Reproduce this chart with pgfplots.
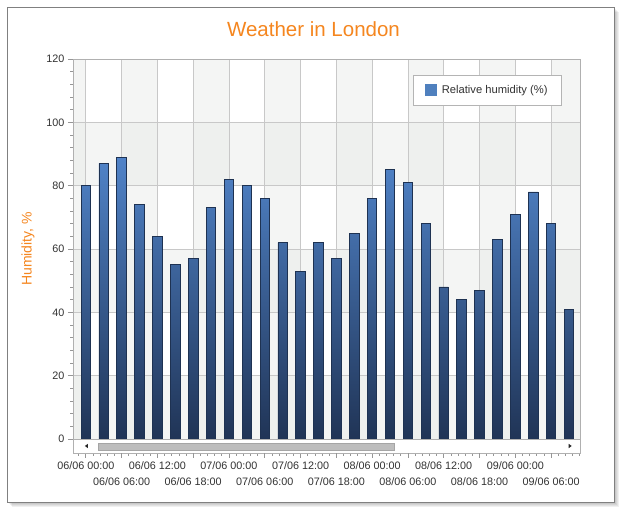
\documentclass[border=0pt]{standalone}
\usepackage{pgfplots}
\pgfplotsset{compat=1.18}
\usepackage{fontspec}
\setmainfont{Liberation Sans}
\definecolor{titleor}{RGB}{245,134,31}
\definecolor{barTop}{RGB}{80,131,200}
\definecolor{barBot}{RGB}{32,52,86}
\definecolor{barEdge}{RGB}{30,50,82}
\definecolor{legblue}{RGB}{79,128,190}
\definecolor{gridc}{RGB}{200,200,200}
\definecolor{borderc}{RGB}{176,176,176}
\definecolor{stripec}{RGB}{234,237,234}
\definecolor{tickc}{RGB}{150,150,150}
\definecolor{labc}{RGB}{50,50,50}
\definecolor{framec}{RGB}{128,128,128}
\definecolor{thumbc}{RGB}{189,189,189}
\definecolor{thumbe}{RGB}{165,165,165}

\begin{document}
\begin{tikzpicture}
\begin{scope}[x=1pt,y=1pt]
  \path (0,0) rectangle (625,518);
  \foreach \d in {1,...,5}{
    \fill[black,opacity=0.06] ({7+\d},{16-\d}) rectangle ({614+\d},{511-\d});
  }
  \fill[white] (7,16) rectangle (614,511);
  \draw[framec, line width=0.8pt] (7,16) rectangle (614,511);
  \node[text=titleor, font=\fontsize{20.5}{24}\selectfont] at (313.5,489) {Weather in London};
  \node[text=titleor, font=\fontsize{14}{17}\selectfont, rotate=90] at (28,269) {Humidity, \%};
\end{scope}
\begin{axis}[
  at={(73pt,65pt)}, anchor=south west,
  scale only axis, width=507pt, height=394pt,
  axis on top=true,
  xmin=-0.715, xmax=27.615, ymin=-4.421, ymax=120,
  axis line style={draw=borderc, line width=0.8pt},
  tick align=outside, tick pos=left,
  major tick length=5pt, minor tick length=2.8pt,
  tick style={draw=tickc, line width=0.7pt},
  ytick={0,20,...,120}, minor ytick={4,8,...,116},
  xtick={0,4,...,24},
  xticklabels={06/06 00:00, 06/06 12:00, 07/06 00:00, 07/06 12:00, 08/06 00:00, 08/06 12:00, 09/06 00:00},
  extra x ticks={2,6,...,26},
  extra x tick labels={06/06 06:00, 06/06 18:00, 07/06 06:00, 07/06 18:00, 08/06 06:00, 08/06 18:00, 09/06 06:00},
  extra x tick style={xticklabel style={yshift=-16pt}},
  minor xtick={-0.4,0,...,27.6},
  tick label style={font=\fontsize{10.8}{12}\selectfont, text=labc},
  /pgf/number format/assume math mode=true,
  legend cell align=left,
  legend style={at={(0.9645,0.9594)}, anchor=north east, draw={rgb,255:red,180;green,180;blue,180},
    line width=0.8pt, fill=white, inner xsep=12pt, inner ysep=8pt, column sep=3pt,
    font=\fontsize{11.2}{13}\selectfont, text=labc},
]
  % horizontal bands
  \fill[stripec, fill opacity=0.5] (axis cs:-0.715,0) rectangle (axis cs:27.615,20);
  \fill[stripec, fill opacity=0.5] (axis cs:-0.715,40) rectangle (axis cs:27.615,60);
  \fill[stripec, fill opacity=0.5] (axis cs:-0.715,80) rectangle (axis cs:27.615,100);
  % vertical strips
  \fill[stripec, fill opacity=0.5] (axis cs:-0.715,0) rectangle (axis cs:0,120);
  \fill[stripec, fill opacity=0.5] (axis cs:2,0) rectangle (axis cs:4,120);
  \fill[stripec, fill opacity=0.5] (axis cs:6,0) rectangle (axis cs:8,120);
  \fill[stripec, fill opacity=0.5] (axis cs:10,0) rectangle (axis cs:12,120);
  \fill[stripec, fill opacity=0.5] (axis cs:14,0) rectangle (axis cs:16,120);
  \fill[stripec, fill opacity=0.5] (axis cs:18,0) rectangle (axis cs:20,120);
  \fill[stripec, fill opacity=0.5] (axis cs:22,0) rectangle (axis cs:24,120);
  \fill[stripec, fill opacity=0.5] (axis cs:26,0) rectangle (axis cs:27.615,120);
  % grid
  \draw[gridc, line width=0.8pt]
    (axis cs:0,0) -- (axis cs:0,120) (axis cs:2,0) -- (axis cs:2,120)
    (axis cs:4,0) -- (axis cs:4,120) (axis cs:6,0) -- (axis cs:6,120)
    (axis cs:8,0) -- (axis cs:8,120) (axis cs:10,0) -- (axis cs:10,120)
    (axis cs:12,0) -- (axis cs:12,120) (axis cs:14,0) -- (axis cs:14,120)
    (axis cs:16,0) -- (axis cs:16,120) (axis cs:18,0) -- (axis cs:18,120)
    (axis cs:20,0) -- (axis cs:20,120) (axis cs:22,0) -- (axis cs:22,120)
    (axis cs:24,0) -- (axis cs:24,120) (axis cs:26,0) -- (axis cs:26,120)
    (axis cs:-0.715,20) -- (axis cs:27.615,20) (axis cs:-0.715,40) -- (axis cs:27.615,40)
    (axis cs:-0.715,60) -- (axis cs:27.615,60) (axis cs:-0.715,80) -- (axis cs:27.615,80)
    (axis cs:-0.715,100) -- (axis cs:27.615,100);
\addplot[ybar, bar width=9.5pt, draw=barEdge, line width=0.8pt,
  top color=barTop, bottom color=barBot, forget plot] coordinates {
  (0,80) (1,87) (2,89) (3,74) (4,64) (5,55) (6,57) (7,73) (8,82) (9,80)
  (10,76) (11,62) (12,53) (13,62) (14,57) (15,65) (16,76) (17,85) (18,81) (19,68)
  (20,48) (21,44) (22,47) (23,63) (24,71) (25,78) (26,68) (27,41)
};
\addlegendimage{legend image code/.code={\fill[legblue] (0pt,-5.5pt) rectangle (11pt,5.5pt);}}
\addlegendentry{Relative humidity (\%)}
% scroll bar region
\draw[borderc, line width=0.8pt] (axis cs:-0.715,0) -- (axis cs:27.615,0);
\filldraw[fill=thumbc, draw=thumbe, line width=0.6pt] (axis cs:0.68,-1.26) rectangle (axis cs:17.22,-3.47);
\fill[black!85] (axis cs:-0.05,-2.21) -- ++(3pt,2.2pt) -- ++(0pt,-4.4pt) -- cycle;
\fill[black!85] (axis cs:27.15,-2.21) -- ++(-3pt,2.2pt) -- ++(0pt,-4.4pt) -- cycle;
\end{axis}
\end{tikzpicture}
\end{document}
